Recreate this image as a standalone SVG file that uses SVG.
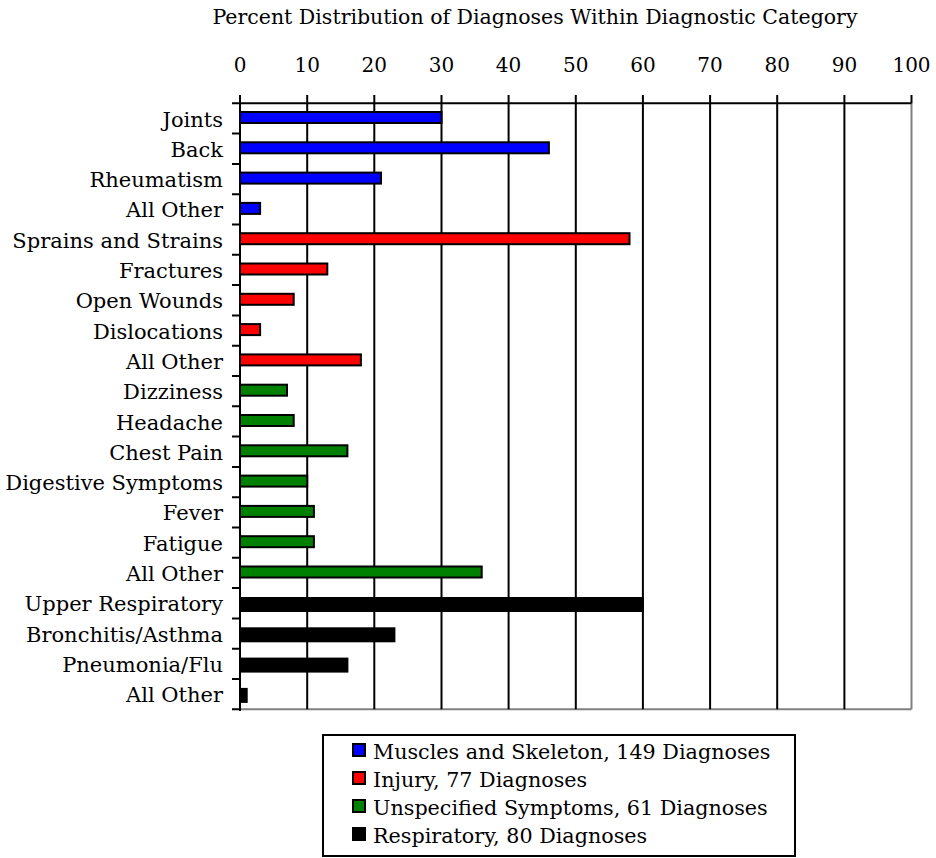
<svg xmlns="http://www.w3.org/2000/svg" width="936" height="858" viewBox="0 0 936 858">
<style>
text{font-family:"DejaVu Serif","Liberation Serif",serif;font-size:21px;fill:#000}
.lab{text-anchor:end}
.tk{text-anchor:middle;font-size:20px}
.lg{font-size:20.7px}
.ax{stroke:#000;stroke-width:2;fill:none}
.gr{stroke:#808080;stroke-width:2;fill:none}
.bar{stroke:#000;stroke-width:2}
.b{fill:#0000ff}.r{fill:#ff0000}.g{fill:#008000}.k{fill:#000}
</style>
<rect width="936" height="858" fill="#fff"/>
<text x="535" y="24" text-anchor="middle" style="font-size:20.5px">Percent Distribution of Diagnoses Within Diagnostic Category</text>
<g id="xlabels">
<text class="tk" x="240" y="72">0</text>
<text class="tk" x="307.2" y="72">10</text>
<text class="tk" x="374.3" y="72">20</text>
<text class="tk" x="441.5" y="72">30</text>
<text class="tk" x="508.6" y="72">40</text>
<text class="tk" x="575.8" y="72">50</text>
<text class="tk" x="642.9" y="72">60</text>
<text class="tk" x="710.1" y="72">70</text>
<text class="tk" x="777.2" y="72">80</text>
<text class="tk" x="844.4" y="72">90</text>
<text class="tk" x="911.5" y="72">100</text>
</g>
<g id="grid">
<path class="gr" d="M911.5 103.3V709.3M240 709.3H911.5"/>
<path class="ax" d="M307.2 95V709.3M374.3 95V709.3M441.5 95V709.3M508.6 95V709.3M575.8 95V709.3M642.9 95V709.3M710.1 95V709.3M777.2 95V709.3M844.4 95V709.3M911.5 95V103.3"/>
<path class="ax" d="M232 103.3H911.5M240 95V711"/>
<path class="ax" d="M232 133.6H240M232 163.9H240M232 194.2H240M232 224.5H240M232 254.8H240M232 285.1H240M232 315.4H240M232 345.7H240M232 376H240M232 406.3H240M232 436.6H240M232 466.9H240M232 497.2H240M232 527.5H240M232 557.8H240M232 588.1H240M232 618.4H240M232 648.7H240M232 679H240M232 709.3H240"/>
</g>
<g id="bars">
<rect class="bar b" x="240" y="112" width="201.5" height="11"/>
<rect class="bar b" x="240" y="142.3" width="308.9" height="11"/>
<rect class="bar b" x="240" y="172.6" width="141" height="11"/>
<rect class="bar b" x="240" y="202.9" width="20.1" height="11"/>
<rect class="bar r" x="240" y="233.2" width="389.5" height="11"/>
<rect class="bar r" x="240" y="263.5" width="87.3" height="11"/>
<rect class="bar r" x="240" y="293.8" width="53.7" height="11"/>
<rect class="bar r" x="240" y="324.1" width="20.1" height="11"/>
<rect class="bar r" x="240" y="354.4" width="120.9" height="11"/>
<rect class="bar g" x="240" y="384.7" width="47" height="11"/>
<rect class="bar g" x="240" y="415" width="53.7" height="11"/>
<rect class="bar g" x="240" y="445.3" width="107.4" height="11"/>
<rect class="bar g" x="240" y="475.6" width="67.2" height="11"/>
<rect class="bar g" x="240" y="505.9" width="73.9" height="11"/>
<rect class="bar g" x="240" y="536.2" width="73.9" height="11"/>
<rect class="bar g" x="240" y="566.5" width="241.7" height="11"/>
<rect class="bar k" x="240" y="598" width="402.9" height="13"/>
<rect class="bar k" x="240" y="628.3" width="154.4" height="13"/>
<rect class="bar k" x="240" y="658.6" width="107.4" height="13"/>
<rect class="bar k" x="240" y="688.9" width="6.7" height="13"/>
</g>
<g id="ylabels">
<text class="lab" x="223" y="126.5">Joints</text>
<text class="lab" x="223" y="156.8">Back</text>
<text class="lab" x="223" y="187.1">Rheumatism</text>
<text class="lab" x="223" y="217.4">All Other</text>
<text class="lab" x="223" y="247.7">Sprains and Strains</text>
<text class="lab" x="223" y="278">Fractures</text>
<text class="lab" x="223" y="308.3">Open Wounds</text>
<text class="lab" x="223" y="338.6">Dislocations</text>
<text class="lab" x="223" y="368.9">All Other</text>
<text class="lab" x="223" y="399.2">Dizziness</text>
<text class="lab" x="223" y="429.5">Headache</text>
<text class="lab" x="223" y="459.8">Chest Pain</text>
<text class="lab" x="223" y="490.1">Digestive Symptoms</text>
<text class="lab" x="223" y="520.4">Fever</text>
<text class="lab" x="223" y="550.7">Fatigue</text>
<text class="lab" x="223" y="581">All Other</text>
<text class="lab" x="223" y="611.3">Upper Respiratory</text>
<text class="lab" x="223" y="641.6">Bronchitis/Asthma</text>
<text class="lab" x="223" y="671.9">Pneumonia/Flu</text>
<text class="lab" x="223" y="702.2">All Other</text>
</g>
<g id="legend">
<rect x="323" y="735" width="472" height="121" fill="#fff" stroke="#000" stroke-width="2"/>
<rect class="bar b" x="353" y="744" width="12" height="12"/>
<text class="lg" x="373" y="759">Muscles and Skeleton, 149 Diagnoses</text>
<rect class="bar r" x="353" y="772" width="12" height="12"/>
<text class="lg" x="373" y="787">Injury, 77 Diagnoses</text>
<rect class="bar g" x="353" y="800" width="12" height="12"/>
<text class="lg" x="373" y="815">Unspecified Symptoms, 61 Diagnoses</text>
<rect class="bar k" x="353" y="828" width="12" height="12"/>
<text class="lg" x="373" y="843">Respiratory, 80 Diagnoses</text>
</g>
</svg>
